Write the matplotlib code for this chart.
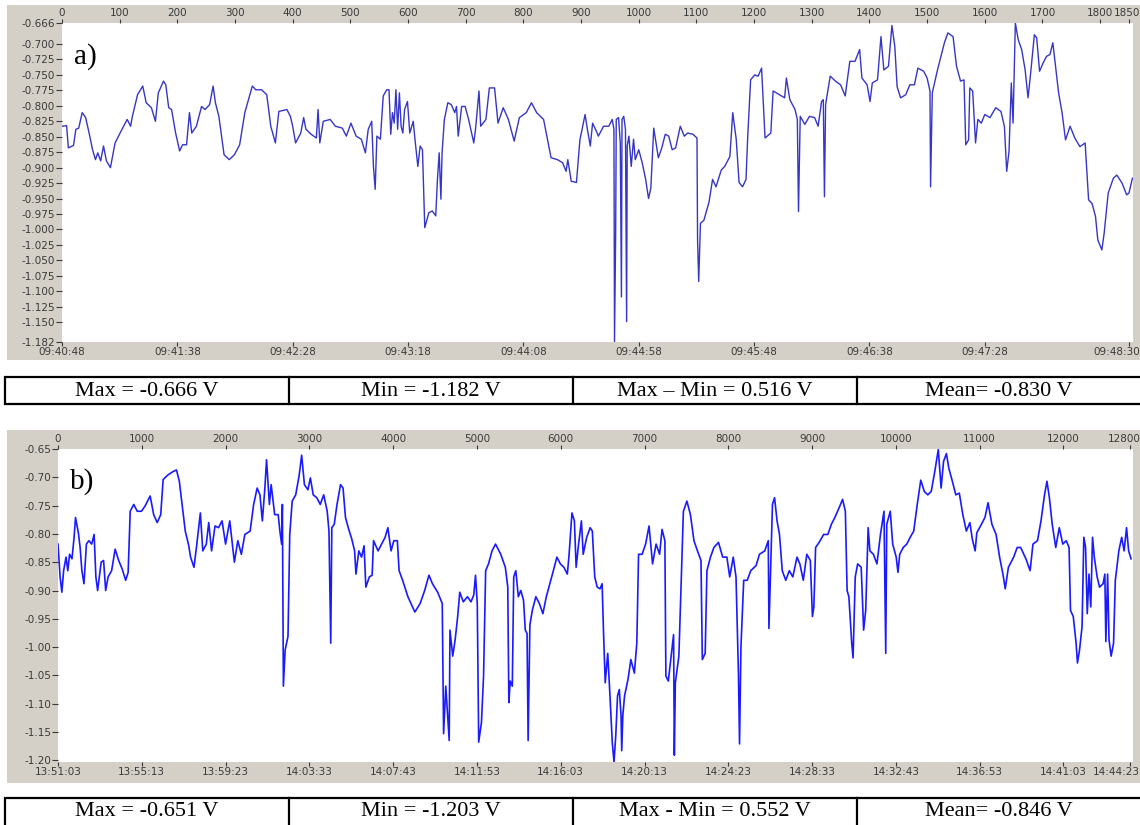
# recreate the two potential recordings (panel a and b) with stats rows underneath
import matplotlib
matplotlib.use('Agg')
import matplotlib.pyplot as plt
from matplotlib.patches import Rectangle
from matplotlib.transforms import ScaledTranslation

# ---- data (sample index, potential in V) ----
sampleA = [0, 8, 11, 20, 24, 29, 35, 41, 47, 53, 58, 62, 67, 72, 77, 84, 92, 104, 113, 119,
           122, 131, 140, 146, 155, 162, 167, 176, 180, 185, 190, 197, 204, 209, 216, 221, 225, 233, 242, 248,
           256, 262, 266, 272, 281, 290, 299, 308, 317, 330, 336, 346, 355, 362, 370, 376, 390, 396, 400, 405,
           414, 419, 423, 432, 441, 444, 447, 453, 465, 474, 486, 493, 501, 510, 519, 526, 531, 537, 540, 543,
           546, 552, 557, 563, 567, 570, 573, 576, 579, 582, 585, 588, 591, 594, 599, 603, 609, 612, 617, 621,
           625, 629, 636, 642, 648, 651, 654, 657, 659, 663, 669, 675, 681, 684, 687, 693, 699, 705, 714, 717,
           723, 726, 735, 741, 750, 756, 765, 774, 784, 793, 805, 814, 823, 835, 844, 848, 859, 868, 874, 877,
           883, 892, 898, 907, 911, 916, 920, 928, 930, 939, 948, 954, 957, 958, 960, 961, 965, 968, 970, 971,
           974, 977, 979, 980, 983, 987, 991, 994, 1000, 1006, 1012, 1017, 1021, 1026, 1034, 1040, 1046, 1052, 1058, 1064,
           1072, 1079, 1085, 1094, 1101, 1102, 1104, 1107, 1113, 1122, 1128, 1134, 1143, 1149, 1158, 1163, 1169, 1174, 1180, 1186,
           1189, 1194, 1201, 1207, 1213, 1219, 1229, 1233, 1244, 1253, 1256, 1262, 1271, 1275, 1277, 1280, 1288, 1296, 1305, 1311,
           1317, 1320, 1322, 1324, 1332, 1341, 1350, 1358, 1366, 1375, 1383, 1387, 1396, 1401, 1405, 1414, 1420, 1425, 1433, 1439,
           1444, 1448, 1454, 1463, 1470, 1478, 1484, 1494, 1500, 1505, 1506, 1509, 1518, 1524, 1530, 1536, 1545, 1551, 1558, 1564,
           1567, 1572, 1574, 1579, 1584, 1588, 1594, 1600, 1609, 1619, 1628, 1634, 1638, 1642, 1646, 1649, 1653, 1658, 1664, 1670,
           1675, 1679, 1686, 1690, 1695, 1701, 1707, 1713, 1718, 1722, 1728, 1734, 1740, 1748, 1756, 1765, 1774, 1780, 1786, 1792,
           1796, 1803, 1807, 1814, 1823, 1829, 1838, 1846, 1850, 1856]
voltA = [-0.833, -0.832, -0.868, -0.864, -0.838, -0.836, -0.811, -0.819, -0.844, -0.871, -0.887, -0.876, -0.889, -0.865, -0.889, -0.900, -0.860, -0.838, -0.822, -0.833,
         -0.817, -0.782, -0.768, -0.795, -0.803, -0.825, -0.779, -0.760, -0.766, -0.803, -0.806, -0.844, -0.873, -0.863, -0.863, -0.811, -0.844, -0.833, -0.801, -0.806,
         -0.798, -0.768, -0.795, -0.817, -0.879, -0.887, -0.879, -0.863, -0.811, -0.768, -0.774, -0.774, -0.782, -0.833, -0.860, -0.809, -0.806, -0.817, -0.833, -0.860,
         -0.844, -0.819, -0.838, -0.846, -0.852, -0.806, -0.860, -0.825, -0.822, -0.833, -0.836, -0.849, -0.828, -0.849, -0.854, -0.876, -0.838, -0.825, -0.898, -0.935,
         -0.849, -0.854, -0.784, -0.774, -0.774, -0.846, -0.811, -0.828, -0.774, -0.838, -0.779, -0.833, -0.844, -0.806, -0.793, -0.844, -0.825, -0.854, -0.898, -0.865,
         -0.871, -0.997, -0.973, -0.970, -0.978, -0.919, -0.876, -0.951, -0.876, -0.822, -0.795, -0.798, -0.811, -0.801, -0.849, -0.801, -0.801, -0.822, -0.860, -0.838,
         -0.776, -0.833, -0.822, -0.771, -0.771, -0.828, -0.803, -0.822, -0.857, -0.819, -0.811, -0.795, -0.811, -0.822, -0.865, -0.884, -0.887, -0.892, -0.906, -0.887,
         -0.922, -0.924, -0.855, -0.814, -0.838, -0.865, -0.828, -0.844, -0.849, -0.833, -0.833, -0.822, -0.838, -1.182, -1.006, -0.822, -0.819, -0.860, -1.109, -0.822,
         -0.817, -0.838, -1.149, -0.865, -0.849, -0.898, -0.854, -0.887, -0.871, -0.892, -0.919, -0.950, -0.933, -0.836, -0.884, -0.868, -0.846, -0.849, -0.871, -0.868,
         -0.833, -0.849, -0.844, -0.846, -0.852, -1.017, -1.084, -0.990, -0.985, -0.955, -0.919, -0.931, -0.904, -0.898, -0.882, -0.811, -0.854, -0.924, -0.931, -0.919,
         -0.849, -0.758, -0.750, -0.752, -0.739, -0.852, -0.844, -0.776, -0.782, -0.787, -0.755, -0.790, -0.806, -0.822, -0.971, -0.817, -0.830, -0.817, -0.819, -0.833,
         -0.793, -0.790, -0.947, -0.798, -0.752, -0.760, -0.766, -0.784, -0.728, -0.728, -0.709, -0.755, -0.766, -0.793, -0.763, -0.758, -0.688, -0.742, -0.736, -0.670,
         -0.704, -0.769, -0.787, -0.782, -0.766, -0.766, -0.739, -0.744, -0.755, -0.776, -0.931, -0.779, -0.742, -0.720, -0.698, -0.682, -0.688, -0.736, -0.760, -0.758,
         -0.863, -0.855, -0.771, -0.776, -0.860, -0.822, -0.828, -0.814, -0.819, -0.803, -0.809, -0.833, -0.906, -0.874, -0.763, -0.828, -0.666, -0.693, -0.709, -0.742,
         -0.787, -0.752, -0.685, -0.690, -0.744, -0.731, -0.720, -0.717, -0.698, -0.731, -0.779, -0.811, -0.855, -0.833, -0.852, -0.866, -0.860, -0.952, -0.958, -0.979,
         -1.017, -1.033, -1.006, -0.941, -0.917, -0.912, -0.925, -0.944, -0.941, -0.917]

sampleB = [0, 25, 46, 67, 96, 117, 138, 167, 192, 209, 243, 264, 285, 310, 339, 368, 402, 431, 452, 473,
           515, 544, 569, 598, 640, 682, 724, 766, 808, 837, 862, 904, 946, 996, 1038, 1100, 1142, 1184, 1226, 1255,
           1310, 1372, 1414, 1448, 1490, 1519, 1561, 1582, 1623, 1657, 1699, 1728, 1770, 1799, 1833, 1874, 1916, 1958, 2000, 2050,
           2105, 2146, 2188, 2230, 2293, 2335, 2377, 2410, 2439, 2469, 2489, 2523, 2544, 2586, 2628, 2648, 2669, 2678, 2690, 2711,
           2745, 2766, 2795, 2837, 2879, 2908, 2941, 2983, 3012, 3046, 3088, 3130, 3171, 3213, 3234, 3255, 3268, 3297, 3330, 3372,
           3402, 3431, 3464, 3506, 3540, 3556, 3590, 3623, 3653, 3674, 3716, 3749, 3766, 3820, 3862, 3904, 3937, 3975, 4008, 4050,
           4071, 4113, 4176, 4259, 4322, 4376, 4427, 4469, 4531, 4586, 4602, 4628, 4648, 4669, 4678, 4711, 4740, 4770, 4795, 4837,
           4887, 4929, 4962, 4983, 5004, 5021, 5054, 5079, 5104, 5138, 5180, 5222, 5284, 5339, 5368, 5381, 5397, 5422, 5439, 5464,
           5494, 5523, 5556, 5577, 5598, 5611, 5632, 5661, 5703, 5745, 5787, 5828, 5870, 5912, 5954, 5996, 6038, 6079, 6100, 6134,
           6163, 6184, 6213, 6247, 6268, 6310, 6351, 6377, 6406, 6435, 6469, 6494, 6510, 6531, 6561, 6586, 6615, 6636, 6657, 6678,
           6699, 6720, 6728, 6741, 6762, 6803, 6837, 6879, 6908, 6929, 6971, 7013, 7054, 7096, 7138, 7180, 7209, 7243, 7255, 7284,
           7326, 7347, 7356, 7368, 7410, 7439, 7464, 7506, 7548, 7590, 7632, 7674, 7690, 7724, 7745, 7787, 7828, 7883, 7933, 7983,
           8017, 8059, 8092, 8121, 8134, 8151, 8184, 8226, 8268, 8331, 8372, 8435, 8477, 8485, 8502, 8527, 8552, 8582, 8611, 8644,
           8686, 8728, 8770, 8820, 8854, 8895, 8937, 8979, 9004, 9021, 9042, 9084, 9138, 9188, 9230, 9272, 9322, 9364, 9397, 9418,
           9439, 9473, 9489, 9515, 9544, 9586, 9615, 9640, 9669, 9690, 9732, 9774, 9816, 9858, 9879, 9891, 9933, 9962, 10004, 10025,
           10046, 10088, 10130, 10171, 10213, 10255, 10297, 10339, 10381, 10422, 10464, 10506, 10540, 10569, 10603, 10632, 10674, 10715, 10757, 10799,
           10841, 10883, 10912, 10946, 10966, 11021, 11063, 11100, 11146, 11196, 11238, 11280, 11305, 11343, 11406, 11448, 11489, 11552, 11602, 11636,
           11690, 11732, 11774, 11803, 11832, 11866, 11908, 11950, 11992, 12033, 12067, 12084, 12117, 12151, 12167, 12192, 12222, 12243, 12264, 12284,
           12305, 12326, 12347, 12368, 12402, 12431, 12473, 12494, 12506, 12527, 12544, 12569, 12598, 12619, 12661, 12695, 12724, 12753, 12778, 12807]
voltB = [-0.818, -0.876, -0.903, -0.865, -0.841, -0.865, -0.836, -0.844, -0.806, -0.771, -0.798, -0.824, -0.865, -0.888, -0.818, -0.812, -0.818, -0.801, -0.876, -0.900,
         -0.850, -0.847, -0.900, -0.876, -0.865, -0.827, -0.847, -0.862, -0.882, -0.868, -0.760, -0.748, -0.760, -0.760, -0.751, -0.733, -0.766, -0.780, -0.766, -0.704,
         -0.696, -0.690, -0.687, -0.707, -0.760, -0.795, -0.821, -0.841, -0.859, -0.818, -0.763, -0.830, -0.818, -0.780, -0.830, -0.786, -0.789, -0.777, -0.818, -0.777,
         -0.850, -0.812, -0.836, -0.801, -0.795, -0.748, -0.719, -0.731, -0.777, -0.719, -0.669, -0.748, -0.713, -0.766, -0.766, -0.795, -0.818, -0.748, -1.069, -1.005,
         -0.981, -0.801, -0.742, -0.731, -0.696, -0.661, -0.713, -0.722, -0.701, -0.731, -0.736, -0.748, -0.731, -0.760, -0.795, -0.993, -0.789, -0.783, -0.748, -0.713,
         -0.719, -0.771, -0.789, -0.809, -0.830, -0.871, -0.830, -0.841, -0.821, -0.894, -0.876, -0.873, -0.812, -0.830, -0.818, -0.806, -0.789, -0.830, -0.812, -0.812,
         -0.865, -0.882, -0.911, -0.938, -0.923, -0.900, -0.873, -0.888, -0.903, -0.923, -1.153, -1.069, -1.116, -1.165, -0.970, -1.016, -0.987, -0.946, -0.903, -0.920,
         -0.911, -0.920, -0.908, -0.873, -0.923, -1.168, -1.133, -1.051, -0.865, -0.853, -0.830, -0.818, -0.836, -0.859, -0.894, -1.098, -1.060, -1.069, -0.876, -0.865,
         -0.911, -0.900, -0.917, -0.970, -0.976, -1.165, -0.961, -0.935, -0.911, -0.923, -0.941, -0.911, -0.888, -0.865, -0.841, -0.853, -0.859, -0.871, -0.836, -0.763,
         -0.777, -0.859, -0.818, -0.777, -0.836, -0.806, -0.789, -0.795, -0.876, -0.894, -0.897, -0.888, -0.970, -1.063, -1.011, -1.081, -1.168, -1.203, -1.156, -1.086,
         -1.075, -1.121, -1.183, -1.121, -1.086, -1.057, -1.022, -1.046, -0.993, -0.836, -0.836, -0.818, -0.786, -0.853, -0.818, -0.836, -0.792, -0.812, -1.051, -1.060,
         -1.005, -0.978, -1.191, -1.063, -1.016, -0.876, -0.760, -0.742, -0.766, -0.812, -0.830, -0.847, -1.022, -1.011, -0.865, -0.841, -0.824, -0.815, -0.841, -0.841,
         -0.876, -0.841, -0.876, -1.046, -1.171, -0.999, -0.882, -0.882, -0.865, -0.856, -0.836, -0.830, -0.812, -0.967, -0.876, -0.748, -0.736, -0.777, -0.801, -0.865,
         -0.882, -0.865, -0.876, -0.841, -0.853, -0.882, -0.836, -0.847, -0.946, -0.929, -0.824, -0.815, -0.801, -0.801, -0.783, -0.771, -0.754, -0.739, -0.760, -0.900,
         -0.911, -0.993, -1.019, -0.876, -0.853, -0.859, -0.970, -0.935, -0.789, -0.830, -0.836, -0.853, -0.801, -0.760, -1.011, -0.783, -0.760, -0.818, -0.841, -0.868,
         -0.836, -0.824, -0.818, -0.806, -0.795, -0.748, -0.705, -0.725, -0.731, -0.725, -0.690, -0.651, -0.719, -0.672, -0.658, -0.684, -0.707, -0.731, -0.728, -0.766,
         -0.795, -0.780, -0.809, -0.830, -0.798, -0.783, -0.771, -0.745, -0.783, -0.801, -0.841, -0.873, -0.897, -0.859, -0.841, -0.824, -0.824, -0.844, -0.865, -0.818,
         -0.812, -0.777, -0.731, -0.707, -0.736, -0.783, -0.824, -0.789, -0.818, -0.812, -0.824, -0.935, -0.946, -0.993, -1.028, -1.005, -0.964, -0.806, -0.824, -0.941,
         -0.871, -0.929, -0.806, -0.841, -0.876, -0.894, -0.888, -0.871, -0.990, -0.871, -0.987, -1.016, -0.993, -0.882, -0.830, -0.806, -0.830, -0.789, -0.830, -0.844]

# ---- axis ticks and labels ----
yTicksA = [-0.666, -0.700, -0.725, -0.750, -0.775, -0.800, -0.825, -0.850, -0.875, -0.900, -0.925,
           -0.950, -0.975, -1.000, -1.025, -1.050, -1.075, -1.100, -1.125, -1.150, -1.182]
topTicksA = [0, 100, 200, 300, 400, 500, 600, 700, 800, 900, 1000, 1100, 1200, 1300, 1400, 1500, 1600, 1700, 1800, 1850]
timeTicksA = [0, 200, 400, 600, 800, 1000, 1200, 1400, 1600, 1850]
timeLabelsA = ['09:40:48', '09:41:38', '09:42:28', '09:43:18', '09:44:08', '09:44:58', '09:45:48',
               '09:46:38', '09:47:28', '09:48:30']

yTicksB = [-0.65, -0.70, -0.75, -0.80, -0.85, -0.90, -0.95, -1.00, -1.05, -1.10, -1.15, -1.20]
topTicksB = [0, 1000, 2000, 3000, 4000, 5000, 6000, 7000, 8000, 9000, 10000, 11000, 12000, 12800]
timeTicksB = [0, 1000, 2000, 3000, 4000, 5000, 6000, 7000, 8000, 9000, 10000, 11000, 12000, 12800]
timeLabelsB = ['13:51:03', '13:55:13', '13:59:23', '14:03:33', '14:07:43', '14:11:53', '14:16:03',
               '14:20:13', '14:24:23', '14:28:33', '14:32:43', '14:36:53', '14:41:03', '14:44:23']

statsA = ['Max = -0.666 V', 'Min = -1.182 V', 'Max \u2013 Min = 0.516 V', 'Mean= -0.830 V']
statsB = ['Max = -0.651 V', 'Min = -1.203 V', 'Max - Min = 0.552 V', 'Mean= -0.846 V']

# ---- settings ----
W, H = 1140, 825
panelGray = '#d4d0c8'
tickColor = '#3a3a3a'
tickFont = 'DejaVu Sans'
tableFont = 'Liberation Serif'

fig = plt.figure(figsize=(W / 100, H / 100), dpi=100)
fig.patch.set_facecolor('white')

# background layer in pixel units (gray panels + stats rows)
bg = fig.add_axes([0, 0, 1, 1])
bg.set_xlim(0, W)
bg.set_ylim(H, 0)
bg.axis('off')
bg.add_patch(Rectangle((7, 5), W, 355, facecolor=panelGray, edgecolor='none'))
bg.add_patch(Rectangle((7, 430), W, 353, facecolor=panelGray, edgecolor='none'))

def statsRow(top, height, texts):
    bg.add_patch(Rectangle((5, top), W, height, facecolor='white', edgecolor='black', lw=1.6))
    edges = [5, 289, 573, 857, W]
    for k in range(1, 4):
        bg.plot([edges[k], edges[k]], [top, top + height], color='black', lw=1.6)
    for k, t in enumerate(texts):
        bg.text((edges[k] + edges[k + 1]) / 2, top + 14, t, ha='center', va='center',
                fontsize=16, family=tableFont)

statsRow(377, 27, statsA)
statsRow(798, 40, statsB)

def pushRight(label, dx):
    # right-align an edge label and nudge it by dx pixels so it stays in the figure
    label.set_horizontalalignment('right')
    label.set_transform(label.get_transform() + ScaledTranslation(dx / 100, 0, fig.dpi_scale_trans))

def panel(rect, xs, ys, xmax, ylim, yTicks, yFmt, topTicks, timeTicks, timeLabels, color, lw, tag, dxTop, dxBot):
    ax = fig.add_axes(rect)
    ax.set_facecolor('white')
    ax.plot(xs, ys, color=color, lw=lw)
    ax.set_xlim(0, xmax)
    ax.set_ylim(*ylim)
    for s in ax.spines.values():
        s.set_visible(False)
    ax.set_yticks(yTicks)
    ax.set_yticklabels([yFmt % v for v in yTicks])
    ax.set_xticks(timeTicks)
    ax.set_xticklabels(timeLabels)
    ax.tick_params(axis='both', direction='out', length=4, width=0.8, color=tickColor,
                   labelcolor=tickColor, labelsize=7.5, pad=1)
    ax.tick_params(axis='x', length=3, pad=0.5)
    for lab in ax.get_xticklabels() + ax.get_yticklabels():
        lab.set_family(tickFont)
    pushRight(ax.get_xticklabels()[-1], dxBot)
    top = ax.secondary_xaxis('top')
    top.set_xticks(topTicks)
    top.set_xticklabels([str(t) for t in topTicks])
    top.spines['top'].set_visible(False)
    top.tick_params(direction='out', length=3, width=0.8, color=tickColor,
                    labelcolor=tickColor, labelsize=7.5, pad=0.5)
    pushRight(top.get_xticklabels()[-1], dxTop)
    ax.text(0.011, 0.895, tag, transform=ax.transAxes, fontsize=21, family=tableFont, va='center')
    return ax

panel([62 / W, 1 - 342 / H, 1071 / W, 319 / H], sampleA, voltA, 1857, (-1.182, -0.666),
      yTicksA, '%.3f', topTicksA, timeTicksA, timeLabelsA, '#3535c8', 1.0, 'a)', 11, 11)
panel([58 / W, 1 - 762 / H, 1075 / W, 313 / H], sampleB, voltB, 12830, (-1.203, -0.650),
      yTicksB, '%.2f', topTicksB, timeTicksB, timeLabelsB, '#1a1aff', 1.2, 'b)', 10, 9)

fig.savefig('out.png', dpi=100)
